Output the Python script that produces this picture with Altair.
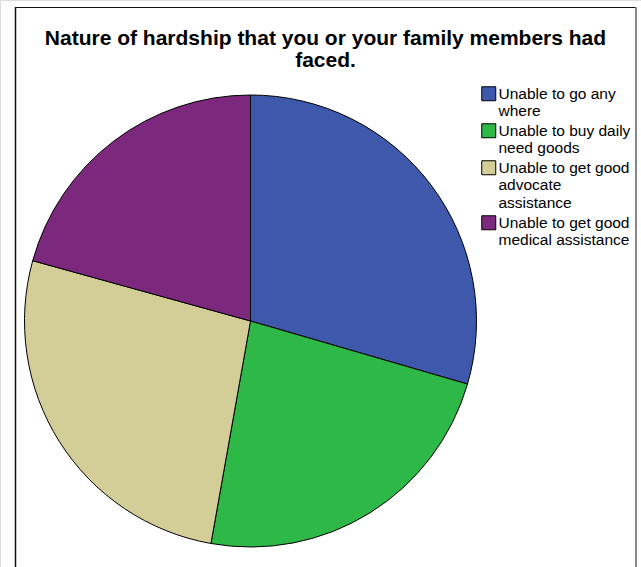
import altair as alt
import pandas as pd

# ---- data ----
categories = [
    "Unable to go any where",
    "Unable to buy daily need goods",
    "Unable to get good advocate assistance",
    "Unable to get good medical assistance",
]
legend_lines = [
    ["Unable to go any", "where"],
    ["Unable to buy daily", "need goods"],
    ["Unable to get good", "advocate", "assistance"],
    ["Unable to get good", "medical assistance"],
]
percentages = [29.5, 23.3, 26.5, 20.7]
colors = ["#3E58AC", "#2EB848", "#D3CE97", "#7C287D"]
title_lines = ["Nature of hardship that you or your family members had", "faced."]

df = pd.DataFrame({
    "category": categories,
    "value": percentages,
    "order": list(range(len(categories))),
})

# label expression mapping each category to its wrapped lines
expr = "datum.label"
for cat, lines in reversed(list(zip(categories, legend_lines))):
    arr = "[" + ",".join("'" + l + "'" for l in lines) + "]"
    expr = f"datum.label == '{cat}' ? {arr} : ({expr})"

FONT = "Liberation Sans"

pie = alt.Chart(df).mark_arc(radius=226, stroke="black", strokeWidth=1).encode(
    theta=alt.Theta("value:Q", stack=True),
    color=alt.Color(
        "category:N",
        scale=alt.Scale(domain=categories, range=colors),
        sort=None,
        legend=alt.Legend(
            orient="none",
            legendX=481,
            legendY=86,
            title=None,
            symbolType="square",
            symbolSize=196,
            symbolStrokeColor="black",
            symbolStrokeWidth=1,
            labelFont=FONT,
            labelFontSize=15.5,
            labelColor="black",
            labelLimit=250,
            labelOffset=2,
            rowPadding=1,
            padding=0,
            labelExpr=expr,
        ),
    ),
    order=alt.Order("order:Q"),
    x=alt.value(250.5),
    y=alt.value(321),
)

one = alt.Data(values=[{}])

title = alt.Chart(one).mark_text(
    font=FONT, fontSize=21, fontWeight="bold", align="center",
    baseline="alphabetic", lineHeight=21.5, color="black",
).encode(x=alt.value(325.5), y=alt.value(45), text=alt.value(title_lines))

left = alt.Chart(one).mark_rule(color="#111111", strokeWidth=1.5).encode(
    x=alt.value(15.5), y=alt.value(7), y2=alt.value(567))
top = alt.Chart(one).mark_rule(color="#111111", strokeWidth=1).encode(
    x=alt.value(15), x2=alt.value(636), y=alt.value(7.5))
right = alt.Chart(one).mark_rule(color="#888888", strokeWidth=2).encode(
    x=alt.value(636), y=alt.value(7), y2=alt.value(567))

chart = alt.layer(pie, title, left, top, right).properties(
    width=641, height=567, padding=0, autosize=alt.AutoSizeParams(type="none"),
).configure_view(stroke=None).configure(background="white")

chart.save("out.html", embed_options={"renderer": "svg", "actions": False})
